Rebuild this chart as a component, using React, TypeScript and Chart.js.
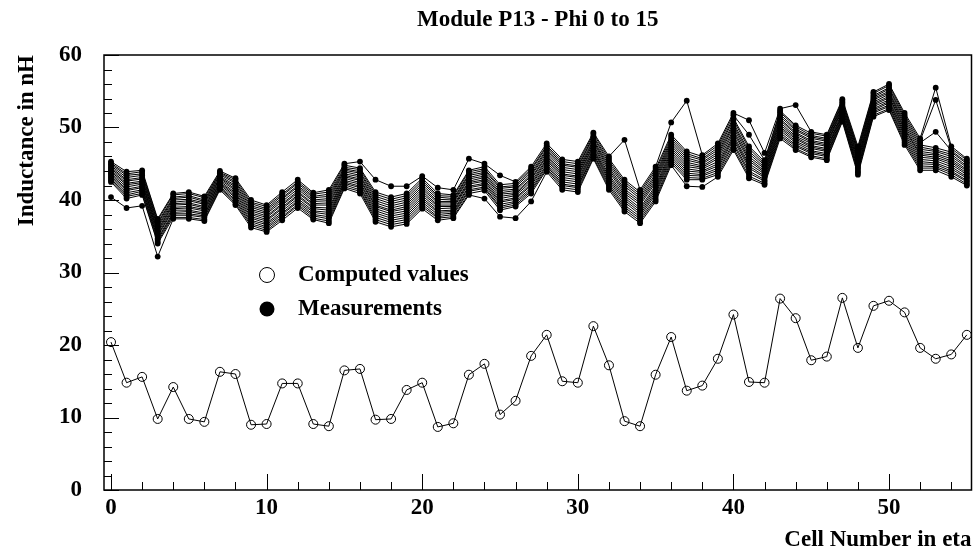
import React, { useEffect, useRef } from "react";
import { Chart, registerables } from "chart.js";

Chart.register(...registerables);

const TITLE = "Module P13 - Phi 0 to 15";
const X_TITLE = "Cell Number in eta";
const Y_TITLE = "Inductance in nH";
const LEGEND_COMPUTED = "Computed values";
const LEGEND_MEASURED = "Measurements";

const cells = [0, 1, 2, 3, 4, 5, 6, 7, 8, 9, 10, 11, 12, 13, 14, 15, 16, 17, 18, 19, 20, 21, 22, 23, 24, 25, 26, 27, 28, 29, 30, 31, 32, 33, 34, 35, 36, 37, 38, 39, 40, 41, 42, 43, 44, 45, 46, 47, 48, 49, 50, 51, 52, 53, 54, 55];
const xTickLabels = [0, 10, 20, 30, 40, 50];
const yTickLabels = [0, 10, 20, 30, 40, 50, 60];

const computed = [20.4, 14.8, 15.6, 9.8, 14.2, 9.8, 9.4, 16.3, 16.0, 9.0, 9.1, 14.7, 14.7, 9.1, 8.8, 16.5, 16.7, 9.7, 9.8, 13.8, 14.8, 8.7, 9.2, 15.9, 17.4, 10.4, 12.3, 18.5, 21.4, 15.0, 14.8, 22.6, 17.2, 9.5, 8.8, 15.9, 21.1, 13.7, 14.4, 18.1, 24.2, 14.9, 14.8, 26.4, 23.7, 17.9, 18.4, 26.5, 19.6, 25.4, 26.1, 24.5, 19.6, 18.1, 18.7, 21.4];

const phi0 = [45.3, 43.9, 44.1, 37.4, 40.9, 41.1, 40.5, 44.0, 43.0, 40.0, 39.3, 41.1, 42.8, 41.0, 41.4, 45.0, 45.3, 42.8, 41.9, 41.9, 43.3, 41.7, 41.4, 45.7, 45.0, 43.4, 42.5, 44.6, 47.8, 45.6, 45.3, 49.3, 46.0, 48.3, 41.4, 44.6, 50.7, 53.7, 46.2, 47.8, 52.0, 51.0, 46.5, 52.6, 53.1, 49.4, 49.0, 53.9, 47.4, 54.9, 56.0, 52.0, 48.5, 55.5, 47.4, 45.7];
const phi1 = [45.1, 43.6, 43.9, 37.2, 40.7, 40.9, 40.3, 43.8, 42.8, 39.7, 39.1, 40.8, 42.5, 40.8, 41.1, 44.8, 44.4, 41.1, 40.4, 40.9, 43.0, 40.9, 40.7, 44.1, 44.6, 42.1, 42.3, 44.3, 47.5, 45.3, 45.0, 49.1, 45.7, 42.8, 41.1, 44.3, 49.0, 46.7, 46.0, 47.5, 51.7, 49.0, 45.5, 52.3, 50.3, 49.2, 48.8, 53.7, 47.1, 54.7, 55.8, 51.7, 48.2, 53.8, 47.1, 45.5];
const phi2 = [44.9, 43.4, 43.6, 36.9, 40.4, 40.6, 40.0, 43.7, 42.5, 39.5, 38.8, 40.6, 42.3, 40.5, 40.8, 44.5, 44.2, 40.8, 40.1, 40.6, 42.7, 40.6, 40.5, 43.9, 44.3, 41.8, 42.0, 44.1, 47.3, 45.0, 44.7, 48.8, 45.4, 42.5, 40.8, 44.0, 48.7, 46.4, 45.7, 47.2, 51.3, 47.4, 45.3, 52.1, 50.1, 48.9, 48.5, 53.5, 46.9, 54.4, 55.5, 51.4, 47.9, 49.4, 46.8, 45.2];
const phi3 = [44.7, 43.1, 43.4, 36.7, 40.2, 40.4, 39.8, 43.5, 42.3, 39.2, 38.6, 40.3, 42.0, 40.3, 40.5, 44.3, 43.9, 40.5, 39.8, 40.3, 42.4, 40.4, 40.2, 43.6, 44.1, 41.6, 41.8, 43.8, 47.0, 44.8, 44.5, 48.6, 45.1, 42.2, 40.5, 43.6, 48.4, 46.1, 45.5, 46.9, 51.0, 47.1, 45.0, 51.8, 49.8, 48.7, 48.3, 53.3, 46.6, 54.2, 55.3, 51.1, 47.6, 47.2, 46.6, 45.0];
const phi4 = [44.5, 42.8, 43.1, 36.4, 40.0, 40.1, 39.6, 43.3, 42.0, 39.0, 38.3, 40.1, 41.8, 40.0, 40.2, 44.1, 43.7, 40.2, 39.5, 40.0, 42.1, 40.1, 40.0, 43.4, 43.8, 41.3, 41.5, 43.5, 46.8, 44.5, 44.2, 48.3, 44.8, 41.9, 40.2, 43.3, 48.1, 45.8, 45.2, 46.6, 50.6, 46.7, 44.8, 51.5, 49.6, 48.5, 48.1, 53.1, 46.4, 54.0, 55.0, 50.8, 47.3, 46.9, 46.3, 44.7];
const phi5 = [44.3, 42.6, 42.9, 36.2, 39.7, 39.9, 39.4, 43.1, 41.8, 38.7, 38.1, 39.8, 41.5, 39.8, 39.9, 43.9, 43.4, 39.9, 39.2, 39.7, 41.8, 39.8, 39.8, 43.1, 43.6, 41.0, 41.3, 43.3, 46.5, 44.2, 43.9, 48.1, 44.5, 41.5, 39.9, 43.0, 47.8, 45.5, 45.0, 46.3, 50.3, 46.4, 44.5, 51.2, 49.3, 48.2, 47.8, 52.9, 46.1, 53.8, 54.8, 50.5, 47.0, 46.7, 46.0, 44.5];
const phi6 = [44.1, 42.3, 42.6, 35.9, 39.5, 39.6, 39.1, 43.0, 41.5, 38.5, 37.8, 39.5, 41.2, 39.5, 39.6, 43.6, 43.2, 39.6, 38.9, 39.4, 41.5, 39.6, 39.6, 42.9, 43.3, 40.8, 41.0, 43.0, 46.2, 43.9, 43.6, 47.9, 44.2, 41.2, 39.6, 42.7, 47.5, 45.2, 44.7, 46.0, 50.0, 46.0, 44.3, 51.0, 49.1, 48.0, 47.6, 52.7, 45.8, 53.5, 54.6, 50.2, 46.7, 46.4, 45.7, 44.2];
const phi7 = [43.9, 42.1, 42.4, 35.7, 39.3, 39.4, 38.9, 42.8, 41.3, 38.2, 37.6, 39.3, 41.0, 39.3, 39.3, 43.4, 42.9, 39.3, 38.6, 39.1, 41.2, 39.3, 39.3, 42.6, 43.1, 40.5, 40.8, 42.8, 46.0, 43.6, 43.3, 47.6, 43.9, 40.9, 39.3, 42.4, 47.2, 44.9, 44.5, 45.7, 49.6, 45.7, 44.0, 50.7, 48.8, 47.8, 47.4, 52.5, 45.6, 53.3, 54.3, 49.9, 46.4, 46.2, 45.4, 44.0];
const phi8 = [43.7, 41.8, 42.2, 35.5, 39.0, 39.1, 38.7, 42.6, 41.0, 38.0, 37.3, 39.0, 40.7, 39.0, 38.9, 43.2, 42.7, 39.1, 38.4, 38.8, 40.9, 39.1, 39.1, 42.4, 42.8, 40.2, 40.6, 42.5, 45.7, 43.4, 43.1, 47.4, 43.5, 40.6, 38.9, 42.0, 46.9, 44.6, 44.3, 45.3, 49.3, 45.4, 43.8, 50.4, 48.6, 47.5, 47.1, 52.2, 45.3, 53.1, 54.1, 49.7, 46.2, 45.9, 45.2, 43.7];
const phi9 = [43.5, 41.5, 41.9, 35.2, 38.8, 38.9, 38.5, 42.4, 40.8, 37.7, 37.1, 38.8, 40.5, 38.8, 38.6, 43.0, 42.4, 38.8, 38.1, 38.5, 40.6, 38.8, 38.9, 42.2, 42.6, 39.9, 40.3, 42.2, 45.5, 43.1, 42.8, 47.1, 43.2, 40.3, 38.6, 41.7, 46.6, 44.3, 44.0, 45.0, 48.9, 45.0, 43.6, 50.1, 48.4, 47.3, 46.9, 52.0, 45.1, 52.9, 53.8, 49.4, 45.9, 45.7, 44.9, 43.5];
const phi10 = [43.3, 41.3, 41.7, 35.0, 38.6, 38.6, 38.2, 42.3, 40.5, 37.5, 36.8, 38.5, 40.2, 38.5, 38.3, 42.7, 42.2, 38.5, 37.8, 38.2, 40.3, 38.5, 38.6, 41.9, 42.3, 39.7, 40.1, 42.0, 45.2, 42.8, 42.5, 46.9, 42.9, 40.0, 38.3, 41.4, 46.3, 44.0, 43.8, 44.7, 48.6, 44.7, 43.3, 49.9, 48.1, 47.1, 46.7, 51.8, 44.8, 52.6, 53.6, 49.1, 45.6, 45.4, 44.6, 43.2];
const phi11 = [43.1, 41.0, 41.4, 34.7, 38.3, 38.4, 38.0, 42.1, 40.3, 37.2, 36.6, 38.2, 39.9, 38.3, 38.0, 42.5, 41.9, 38.2, 37.5, 37.9, 40.0, 38.3, 38.4, 41.7, 42.1, 39.4, 39.8, 41.7, 44.9, 42.5, 42.2, 46.7, 42.6, 39.7, 38.0, 41.1, 46.0, 43.7, 43.5, 44.4, 48.3, 44.4, 43.1, 49.6, 47.9, 46.8, 46.4, 51.6, 44.5, 52.4, 53.4, 48.8, 45.3, 45.1, 44.3, 43.0];
const phi12 = [42.9, 40.7, 41.2, 34.5, 38.1, 38.1, 37.8, 41.9, 40.0, 37.0, 36.3, 38.0, 39.7, 38.0, 37.7, 42.3, 41.7, 37.9, 37.2, 37.6, 39.7, 38.0, 38.2, 41.4, 41.8, 39.1, 39.6, 41.4, 44.7, 42.2, 41.9, 46.4, 42.3, 39.3, 37.7, 40.8, 45.7, 43.4, 43.3, 44.1, 47.9, 44.0, 42.8, 49.3, 47.6, 46.6, 46.2, 51.4, 44.3, 52.2, 53.1, 48.5, 45.0, 44.9, 44.0, 42.7];
const phi13 = [42.7, 40.5, 40.9, 34.2, 37.9, 37.9, 37.6, 41.7, 39.8, 36.7, 36.1, 37.7, 39.4, 37.8, 37.4, 42.1, 41.4, 37.6, 36.9, 37.3, 39.4, 37.7, 38.0, 41.2, 41.6, 38.9, 39.3, 41.2, 44.4, 42.0, 41.7, 46.2, 42.0, 39.0, 37.4, 40.4, 45.4, 43.1, 43.0, 43.8, 47.6, 43.7, 42.6, 49.0, 47.4, 46.4, 46.0, 51.2, 44.0, 52.0, 52.9, 48.2, 44.7, 44.6, 43.8, 42.5];
const phi14 = [42.5, 40.2, 40.7, 34.0, 37.6, 37.6, 37.3, 41.6, 39.5, 36.5, 35.8, 37.5, 39.2, 37.5, 37.1, 41.8, 41.2, 37.3, 36.6, 37.0, 39.1, 37.5, 37.7, 40.9, 41.3, 38.6, 39.1, 40.9, 44.2, 41.7, 41.4, 45.9, 41.7, 38.7, 37.1, 40.1, 45.1, 42.8, 42.8, 43.5, 47.2, 43.3, 42.3, 48.8, 47.1, 46.1, 45.7, 51.0, 43.8, 51.7, 52.6, 47.9, 44.4, 44.4, 43.5, 42.2];
const phi15 = [40.4, 38.9, 39.2, 32.2, 37.4, 37.4, 37.1, 41.4, 39.3, 36.2, 35.6, 37.2, 38.9, 37.3, 36.8, 41.6, 40.9, 37.0, 36.3, 36.7, 38.8, 37.2, 37.5, 40.7, 40.2, 37.7, 37.5, 39.8, 43.9, 41.4, 41.1, 45.7, 41.4, 38.4, 36.8, 39.8, 44.8, 41.9, 41.8, 43.2, 46.9, 43.0, 42.1, 48.5, 46.9, 45.9, 45.5, 50.8, 43.5, 51.5, 52.4, 47.6, 44.1, 44.1, 43.2, 42.0];

const measurements = [phi0, phi1, phi2, phi3, phi4, phi5, phi6, phi7, phi8, phi9, phi10, phi11, phi12, phi13, phi14, phi15];

const FONT_FAMILY = "'Liberation Serif', 'Times New Roman', serif";
const FONT_SIZE = 23;

const rootFramePlugin = {
  id: "rootFrame",
  afterDraw(chart: any) {
    const { ctx, chartArea: a, scales } = chart;
    const xs = scales.x;
    const ys = scales.y;
    ctx.save();
    ctx.strokeStyle = "#000";
    ctx.lineWidth = 1.5;
    ctx.strokeRect(a.left, a.top, a.right - a.left, a.bottom - a.top);
    ctx.lineWidth = 1;
    ctx.beginPath();
    for (let v = 0; v <= 54; v += 2) {
      const px = Math.round(xs.getPixelForValue(v)) + 0.5;
      const len = v % 10 === 0 ? 16 : 8;
      ctx.moveTo(px, a.bottom);
      ctx.lineTo(px, a.bottom - len);
    }
    for (let v = 0; v <= 60; v += 2) {
      const py = Math.round(ys.getPixelForValue(v)) + 0.5;
      const len = v % 10 === 0 ? 15 : 8;
      ctx.moveTo(a.left, py);
      ctx.lineTo(a.left + len, py);
    }
    ctx.stroke();

    // title
    ctx.fillStyle = "#000";
    ctx.font = `bold ${FONT_SIZE}px ${FONT_FAMILY}`;
    ctx.textAlign = "center";
    ctx.textBaseline = "middle";
    ctx.fillText(TITLE, (a.left + a.right) / 2, 20);

    // legend
    const lx = 267;
    const ly1 = 275;
    const ly2 = 309;
    ctx.lineWidth = 1;
    ctx.beginPath();
    ctx.arc(lx, ly1, 7.5, 0, Math.PI * 2);
    ctx.stroke();
    ctx.beginPath();
    ctx.arc(lx, ly2, 7.5, 0, Math.PI * 2);
    ctx.fill();
    ctx.textAlign = "left";
    ctx.fillText(LEGEND_COMPUTED, 298, ly1);
    ctx.fillText(LEGEND_MEASURED, 298, ly2);
    ctx.restore();
  },
};

export default function App() {
  const canvasRef = useRef<HTMLCanvasElement | null>(null);

  useEffect(() => {
    const canvas = canvasRef.current;
    if (!canvas) return;

    const measDatasets = measurements.map((series, k) => ({
      label: "Phi " + k,
      data: cells.map((c, i) => ({ x: c, y: series[i] })),
      borderColor: "#000",
      borderWidth: 1,
      pointRadius: 2.9,
      pointBackgroundColor: "#000",
      pointBorderWidth: 0,
      pointBorderColor: "#000",
      tension: 0,
      fill: false,
    }));

    const compDataset = {
      label: LEGEND_COMPUTED,
      data: cells.map((c, i) => ({ x: c, y: computed[i] })),
      borderColor: "#000",
      borderWidth: 1,
      pointRadius: 4.5,
      pointBackgroundColor: "rgba(0,0,0,0)",
      pointBorderColor: "#000",
      pointBorderWidth: 1,
      tension: 0,
      fill: false,
    };

    const font = { family: FONT_FAMILY, size: FONT_SIZE, weight: "bold" as const, lineHeight: 1 };

    const chart = new Chart(canvas, {
      type: "line",
      data: { datasets: [compDataset, ...measDatasets] as any },
      plugins: [rootFramePlugin],
      options: {
        responsive: false,
        animation: false,
        devicePixelRatio: 1,
        layout: { padding: { left: 0, right: 5, top: 55, bottom: 0 } },
        plugins: {
          legend: { display: false },
          title: { display: false },
          tooltip: { enabled: false },
        },
        scales: {
          x: {
            type: "linear",
            min: -0.45,
            max: 55.3,
            afterBuildTicks: (s: any) => {
              s.ticks = xTickLabels.map((v) => ({ value: v }));
            },
            afterFit: (s: any) => {
              s.height = 62;
            },
            grid: { display: false, drawTicks: false },
            border: { display: false },
            ticks: { color: "#000", font, padding: 7, maxRotation: 0, autoSkip: false },
            title: {
              display: true,
              text: X_TITLE,
              align: "end",
              color: "#000",
              font,
              padding: { top: 0, bottom: 0 },
            },
          },
          y: {
            type: "linear",
            min: 0,
            max: 60,
            afterBuildTicks: (s: any) => {
              s.ticks = yTickLabels.map((v) => ({ value: v }));
            },
            afterFit: (s: any) => {
              s.width = 104;
            },
            grid: { display: false, drawTicks: false },
            border: { display: false },
            ticks: { color: "#000", font, padding: 22 },
            title: {
              display: true,
              text: Y_TITLE,
              align: "end",
              color: "#000",
              font,
              padding: { top: 16, bottom: 0 },
            },
          },
        },
      },
    });

    return () => chart.destroy();
  }, []);

  return (
    <div style={{ position: "absolute", left: 0, top: 0, width: 977, height: 552, background: "#fff" }}>
      <canvas ref={canvasRef} width={977} height={552} style={{ display: "block" }} />
    </div>
  );
}
